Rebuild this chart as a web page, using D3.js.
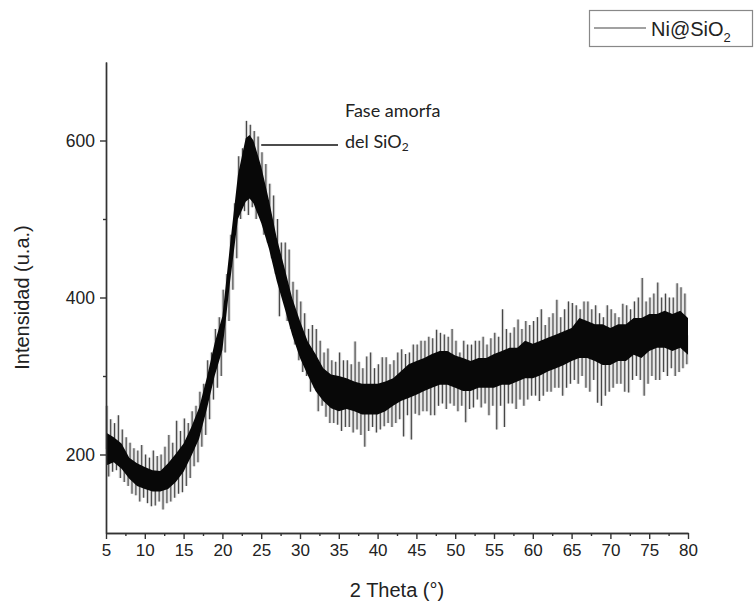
<!DOCTYPE html>
<html>
<head>
<meta charset="utf-8">
<script src="https://cdn.jsdelivr.net/npm/d3@7"></script>
<style>
  body { margin: 0; background: #fff; }
  svg text { font-family: "Liberation Sans", Arial, sans-serif; fill: #222; }
</style>
</head>
<body>
<div class="vis-xrd"></div>
<script>
// dense band of the XRD trace (2 theta, lower / upper edge of the dark core)
const coreTheta = [5,6,7,8,9,10,11,12,13,14,15,16,17,18,19,20,21,22,23,23.5,24,25,26,27,28,29,30,
  31,32,33,34,35,36,37,38,39,40,41,42,43,44,45,46,47,48,49,50,51,52,53,54,55,56,57,58,59,60,
  61,62,63,64,65,66,67,68,69,70,71,72,73,74,75,76,77,78,79,80];
const coreLo = [186,190,182,169,160,156,153,153,156,165,178,198,220,258,300,333,421,500,522,526,520,495,462,
  421,387,352,323,301,281,268,259,255,258,255,251,251,251,255,262,268,272,276,281,285,289,289,285,
  281,281,285,285,285,289,289,293,297,297,301,306,310,314,319,323,323,319,314,314,319,319,327,323,
  332,336,336,332,336,327];
const coreHi = [228,222,214,196,189,184,180,179,189,201,214,235,260,298,342,376,468,556,603,607,600,567,524,
  476,438,399,370,344,328,310,302,300,297,293,290,290,290,293,297,306,315,319,323,328,332,332,326,
  323,319,323,323,328,332,336,336,345,341,345,349,353,357,361,374,370,366,366,361,366,366,374,374,
  379,379,383,379,383,374];

// noise spikes: one row per degree (5 ... 79), four spikes at offsets below
const spikeOffsets = [0.1, 0.35, 0.6, 0.85];
const spikeRows = [
  [262,172,245,178],[240,180,250,170],[232,165,222,160],[215,150,208,148],[205,140,212,145],
  [200,138,196,134],[205,135,198,140],[200,130,210,138],[225,140,215,145],[243,150,230,152],
  [246,160,240,170],[255,185,262,190],[280,210,290,225],[320,245,330,270],[360,285,375,300],
  [410,330,430,370],[480,410,520,450],[580,500,590,510],[625,505,620,515],[612,500,605,505],
  [585,480,570,470],[545,450,530,430],[500,376,470,400],[470,370,461,360],[420,340,410,320],
  [395,305,380,300],[360,280,365,285],[360,255,345,262],[330,248,335,240],[320,240,318,238],
  [330,230,320,235],[320,235,315,228],[344,232,318,225],[310,210,325,230],[330,235,310,228],
  [315,232,324,236],[324,240,315,235],[320,240,330,245],[334,223,328,250],[330,219,340,252],
  [340,250,345,255],[345,255,350,250],[348,250,359,262],[355,265,353,258],[350,265,360,262],
  [345,255,330,262],[345,241,340,258],[340,260,345,270],[345,260,350,265],[340,250,348,262],
  [355,232,350,262],[385,235,360,265],[355,265,362,258],[372,270,360,262],[370,270,365,275],
  [370,275,375,268],[385,275,365,280],[375,280,380,285],[397,285,375,275],[385,285,395,290],
  [393,295,390,290],[385,300,395,285],[395,280,385,295],[390,266,380,262],[375,275,390,280],
  [385,285,380,290],[375,290,392,280],[390,279,385,295],[395,300,400,295],[425,275,395,290],
  [400,300,405,295],[419,295,400,305],[405,300,400,310],[400,300,418,305],[413,310,405,315]
];

const yMajor = [200, 400, 600];
const yMinor = [300, 500];
const xMajor = [5,10,15,20,25,30,35,40,45,50,55,60,65,70,75,80];
const xMinor = [7.5,12.5,17.5,22.5,27.5,32.5,37.5,42.5,47.5,52.5,57.5,62.5,67.5,72.5,77.5];

const seriesName = 'Ni@SiO';
const noteLine1 = 'Fase amorfa';

const draw = () => {
  const width = 754, height = 607;
  const margin = {top: 62, right: 66, bottom: 74, left: 106};

  const svg = d3.select('.vis-xrd').append('svg')
    .attr('width', width)
    .attr('height', height);

  const xScale = d3.scaleLinear().domain([5, 80]).range([margin.left, width - margin.right]);
  const yScale = d3.scaleLinear().domain([100, 700]).range([height - margin.bottom, margin.top]);

  const core = coreTheta.map((t, i) => ({t: t, lo: coreLo[i], hi: coreHi[i]}));
  const loAt = d3.scaleLinear().domain(coreTheta).range(coreLo);
  const hiAt = d3.scaleLinear().domain(coreTheta).range(coreHi);
  const midAt = t => (loAt(t) + hiAt(t)) / 2;

  const spikes = [];
  spikeRows.forEach((row, i) => {
    row.forEach((v, j) => spikes.push({t: 5 + i + spikeOffsets[j], v: v}));
  });

  const area = d3.area()
    .x(d => xScale(d.t))
    .y0(d => yScale(d.lo))
    .y1(d => yScale(d.hi));

  // wide faint copy of the spikes gives the grey fuzz, thin dark copy on top
  const spikeLayer = (col, op, w) => svg.append('g')
    .selectAll('line')
    .data(spikes)
    .join('line')
      .attr('x1', d => xScale(d.t))
      .attr('x2', d => xScale(d.t))
      .attr('y1', d => yScale(midAt(d.t)))
      .attr('y2', d => yScale(d.v))
      .attr('stroke', col)
      .attr('stroke-opacity', op)
      .attr('stroke-width', w);

  spikeLayer('#777', 0.3, 3.2);
  spikeLayer('#222', 0.8, 1.1);

  svg.append('path')
    .datum(core)
    .attr('d', area)
    .attr('fill', '#080808');

  // axes
  const gX = svg.append('g')
    .attr('transform', `translate(0, ${height - margin.bottom})`)
    .call(d3.axisBottom(xScale).tickValues(xMajor).tickSize(6).tickSizeOuter(0).tickPadding(5));
  svg.append('g')
    .attr('transform', `translate(0, ${height - margin.bottom})`)
    .call(d3.axisBottom(xScale).tickValues(xMinor).tickSize(3).tickSizeOuter(0).tickFormat(''));

  const gY = svg.append('g')
    .attr('transform', `translate(${margin.left}, 0)`)
    .call(d3.axisLeft(yScale).tickValues(yMajor).tickSize(6).tickSizeOuter(0).tickPadding(5));
  svg.append('g')
    .attr('transform', `translate(${margin.left}, 0)`)
    .call(d3.axisLeft(yScale).tickValues(yMinor).tickSize(3).tickSizeOuter(0).tickFormat(''));

  svg.selectAll('.domain, .tick line').attr('stroke', '#333').attr('stroke-width', 1.4);
  gX.selectAll('text').style('font-size', '17px');
  gY.selectAll('text').style('font-size', '17.5px');

  svg.append('text')
    .attr('x', (xScale(5) + xScale(80)) / 2)
    .attr('y', 597)
    .attr('text-anchor', 'middle')
    .style('font-size', '20px')
    .text('2 Theta (°)');

  svg.append('text')
    .attr('transform', `translate(29, ${yScale(400)}) rotate(-90)`)
    .attr('text-anchor', 'middle')
    .style('font-size', '20px')
    .text('Intensidad (u.a.)');

  // annotation for the amorphous hump
  svg.append('line')
    .attr('x1', xScale(25)).attr('x2', 338)
    .attr('y1', 145).attr('y2', 145)
    .attr('stroke', '#111').attr('stroke-width', 1.4);
  const note = svg.append('text')
    .style('font-family', 'Lato, "Open Sans", sans-serif')
    .style('font-size', '18px');
  note.append('tspan').attr('x', 345).attr('y', 117).text(noteLine1);
  note.append('tspan').attr('x', 345).attr('y', 148).text('del SiO');
  note.append('tspan').attr('dy', 3).style('font-size', '12px').text('2');

  // legend
  const leg = svg.append('g');
  leg.append('rect')
    .attr('x', 589.5).attr('y', 10.5).attr('width', 163).attr('height', 36)
    .attr('fill', '#fff').attr('stroke', '#888').attr('stroke-width', 1.2);
  leg.append('line')
    .attr('x1', 594).attr('x2', 646).attr('y1', 28).attr('y2', 28)
    .attr('stroke', '#444').attr('stroke-width', 1.2);
  const lt = leg.append('text')
    .attr('x', 651).attr('y', 36)
    .style('font-size', '20px');
  lt.append('tspan').text(seriesName);
  lt.append('tspan').attr('dy', 6).style('font-size', '13px').text('2');
};

draw();
</script>
</body>
</html>
